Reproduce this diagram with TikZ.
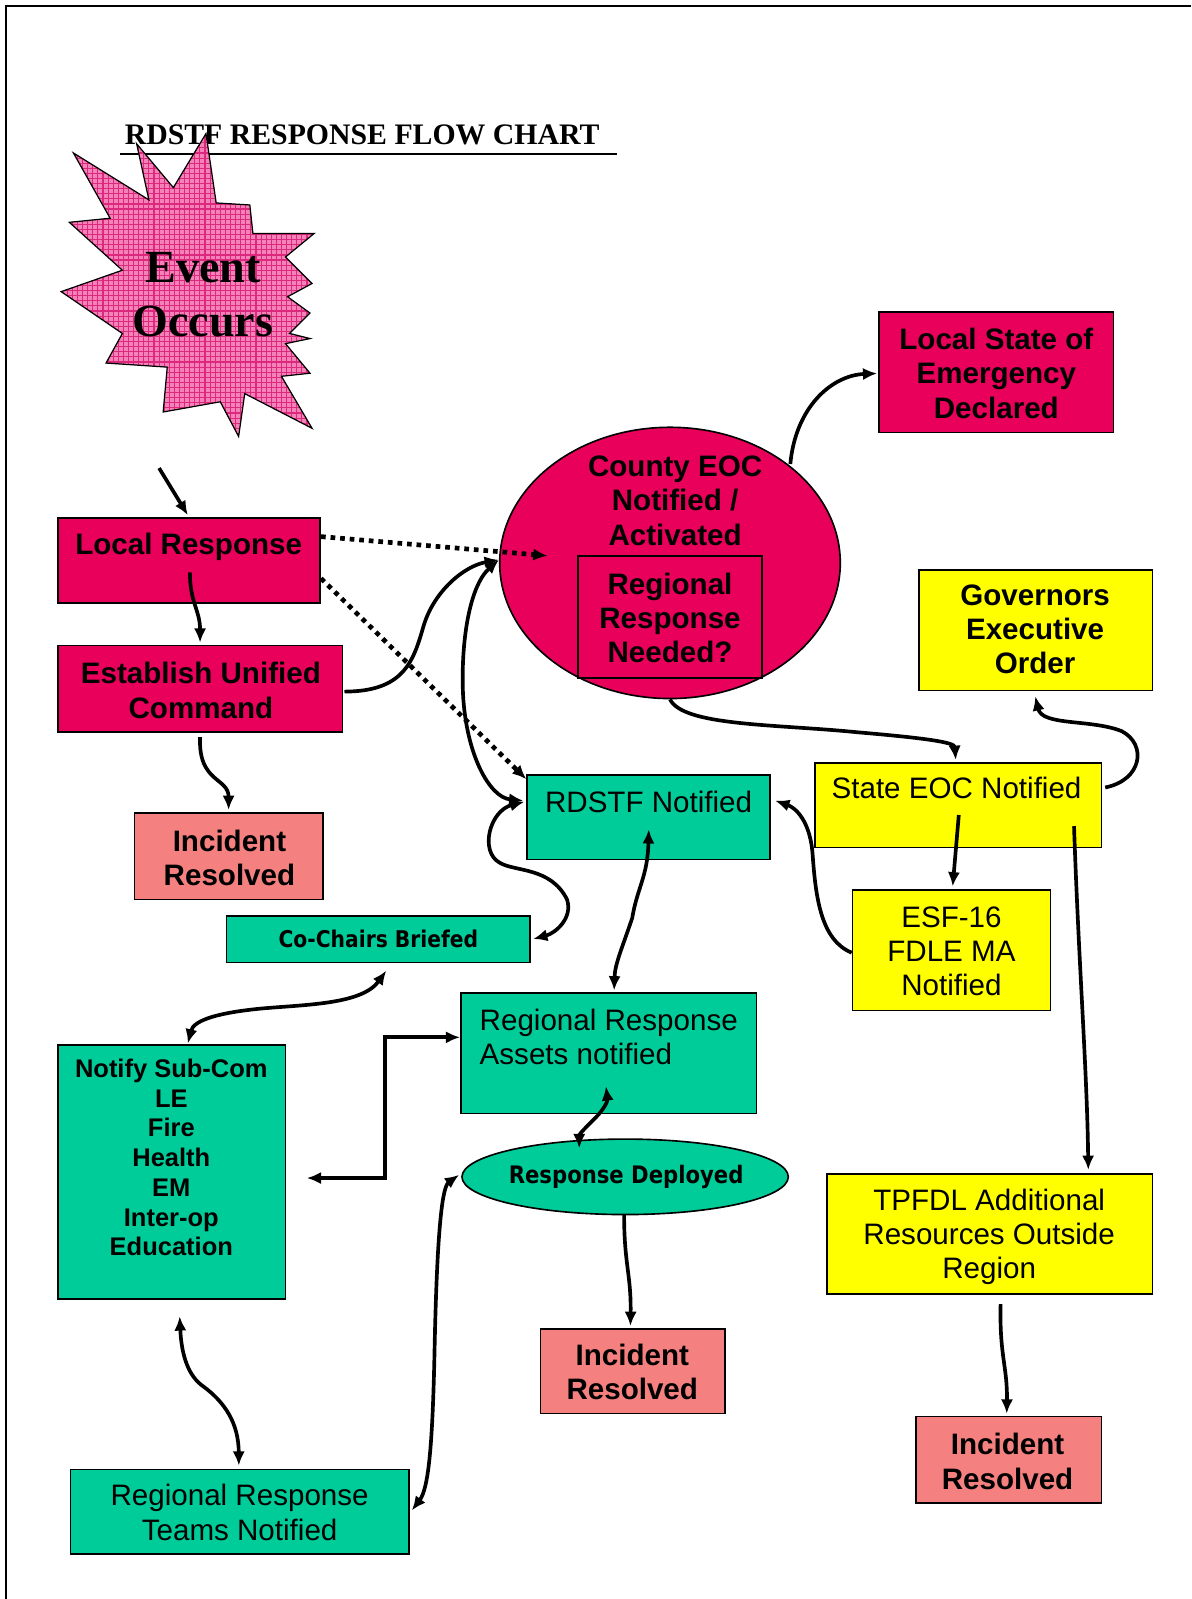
\documentclass[tikz,border=0pt]{standalone}
\usepackage{fontspec}
\setmainfont{Liberation Sans}
\newfontfamily\serifbold{Liberation Serif}
\newfontfamily\tahoma{DejaVu Sans}[FakeStretch=0.88]
\usetikzlibrary{arrows.meta,shapes.geometric,fit,calc}
\definecolor{crimson}{RGB}{232,0,90}
\definecolor{salmon}{RGB}{245,128,128}
\definecolor{sea}{RGB}{0,204,153}
\definecolor{lemon}{RGB}{255,255,0}
\definecolor{burstbase}{RGB}{244,130,185}
\definecolor{burstgrid}{RGB}{220,40,125}
\newcommand\burstpath{(72,150) -- (146,196) -- (134,141) -- (170,184) -- (202,131) -- (212,199) -- (245,201) -- (248,229) -- (308,229) -- (280,252) -- (306,278) -- (282,291) -- (304,307) -- (284,327) -- (304,332) -- (280,337) -- (304,366) -- (276,369) -- (306,420) -- (240,386) -- (234,428) -- (216,394) -- (160,404) -- (164,360) -- (104,356) -- (120,327) -- (60,286) -- (120,265) -- (68,218) -- (108,214) -- cycle}
\tikzset{
  box/.style={draw=black, line width=0.8pt, inner sep=0pt},
  lbl/.style={inner sep=0pt, align=center, font=\fontsize{14.5pt}{16.8pt}\selectfont\bfseries},
  lblr/.style={inner sep=0pt, align=center, font=\fontsize{14.5pt}{16.8pt}\selectfont},
  lbls/.style={inner sep=0pt, align=center, font=\fontsize{12.5pt}{14.6pt}\selectfont\bfseries},
  lblt/.style={inner sep=0pt, font=\tahoma\fontsize{11.3pt}{13pt}\selectfont\bfseries},
  conn/.style={line width=1.8pt, ->},
  both/.style={line width=1.8pt, <->},
  dotlink/.style={line width=2.3pt, dash pattern=on 2.3pt off 2.4pt, ->},
}
\begin{document}
\begin{tikzpicture}[x=0.5pt,y=-0.5pt,>={Latex[length=7pt,width=6pt]}]
\useasboundingbox (0,0) rectangle (1168,1568);
\fill[white] (0,0) rectangle (1168,1568);
\draw[line width=1.2pt] (6,1568) -- (6,6) -- (1168,6);

% title
\node[anchor=base west, inner sep=0pt, font=\serifbold\bfseries\fontsize{14.6pt}{16pt}\selectfont] (title) at (122,142) {RDSTF RESPONSE FLOW CHART};
\draw[line width=0.7pt] (118,151) -- (605,151);

% starburst
\fill[burstbase] \burstpath;
\begin{scope}
  \clip \burstpath;
  \foreach \i in {56,61,...,316} \draw[burstgrid, line width=0.55pt] (\i,125) -- (\i,435);
  \foreach \j in {125,130,...,435} \draw[burstgrid, line width=0.55pt] (55,\j) -- (315,\j);
\end{scope}
\draw[line width=0.6pt, line join=miter] \burstpath;
\node[inner sep=0pt, align=center, font=\serifbold\bfseries\fontsize{22.6pt}{26.5pt}\selectfont] (event) at (199,289) {Event\\Occurs};

% boxes
\node[box, fill=crimson, fit={(57,508) (314,591)}] (lr) {};
\node[lbl] (lrt) at (185,536) {Local Response};
\node[box, fill=crimson, fit={(57,633) (336,718)}] (euc) {};
\node[lbl] (euct) at (197,677) {Establish Unified\\Command};
\node[box, fill=salmon, fit={(132,797) (317,882)}] (ir1) {};
\node[lbl] (ir1t) at (225,841) {Incident\\Resolved};
\node[box, fill=sea, fit={(222,898) (520,944)}] (cc) {};
\node[lblt] (cct) at (371,921) {Co-Chairs Briefed};
\node[box, fill=sea, fit={(57,1025) (280,1274)}] (ns) {};
\node[lbls] (nst) at (168,1135) {Notify Sub-Com\\LE\\Fire\\Health\\EM\\Inter-op\\Education};
\node[box, fill=sea, fit={(69,1441) (401,1524)}] (rrt) {};
\node[lblr] (rrtt) at (235,1483) {Regional Response\\Teams Notified};

\node[draw=black, line width=0.8pt, fill=crimson, ellipse, minimum width=167pt, minimum height=133pt, inner sep=0pt] (eoc) at (657,552) {};
\node[lbl] (eoct) at (662,491) {County EOC\\Notified /\\Activated};
\node[draw=black, line width=1.2pt, inner sep=0pt, fit={(567,545) (747,665)}] (rrn) {};
\node[lbl] (rrnt) at (657,606) {Regional\\Response\\Needed?};

\node[box, fill=crimson, fit={(862,306) (1092,424)}] (lse) {};
\node[lbl] (lset) at (977,366) {Local State of\\Emergency\\Declared};
\node[box, fill=lemon, fit={(901,559) (1130,677)}] (geo) {};
\node[lbl] (geot) at (1015,617) {Governors\\Executive\\Order};
\node[box, fill=sea, fit={(517,760) (755,843)}] (rd) {};
\node[lblr] (rdt) at (636,786) {RDSTF Notified};
\node[box, fill=lemon, fit={(799,748) (1080,831)}] (seoc) {};
\node[lblr] (seoct) at (938,773) {State EOC Notified};
\node[box, fill=lemon, fit={(836,873) (1030,991)}] (esf) {};
\node[lblr] (esft) at (933,933) {ESF-16\\FDLE MA\\Notified};
\node[box, fill=sea, fit={(452,974) (742,1092)}] (rra) {};
\node[lblr, align=left, anchor=west] (rrat) at (470,1017) {Regional Response\\Assets notified};
\node[draw=black, line width=0.8pt, fill=sea, ellipse, minimum width=160pt, minimum height=37pt, inner sep=0pt] (rdep) at (613,1154) {};
\node[inner sep=0pt, font=\tahoma\fontsize{11.8pt}{13pt}\selectfont\bfseries] (rdept) at (614,1154) {Response Deployed};
\node[box, fill=salmon, fit={(530,1303) (711,1386)}] (ir2) {};
\node[lbl] (ir2t) at (620,1345) {Incident\\Resolved};
\node[box, fill=lemon, fit={(811,1151) (1130,1269)}] (tp) {};
\node[lblr] (tpt) at (970,1213) {TPFDL Additional\\Resources Outside\\Region};
\node[box, fill=salmon, fit={(898,1389) (1080,1474)}] (ir3) {};
\node[lbl] (ir3t) at (988,1433) {Incident\\Resolved};

% connectors
\coordinate (evtail) at (156,459);
\draw[conn] (evtail) -- ($(lr.north west)+(128,-2)$);
\draw[conn] ($(lr.north west)+(130,54)$) .. controls +(0,30) and +(0,-32) .. ($(euc.north west)+(140,-2)$);
\draw[conn] ($(euc.south west)+(140,4)$) .. controls +(-2,45) and +(0,-32) .. ($(ir1.north west)+(93,-2)$);
\draw[dotlink] ($(lr.north east)+(0,19)$) -- ($(eoc.center)+(-120,-7)$);
\draw[dotlink] ($(lr.north east)+(0,60)$) -- ($(rd.north west)+(0,5)$);
\draw[conn] ($(euc.north east)+(1,46)$) .. controls (395,678) and (405,650) .. (415,615) .. controls (425,580) and (455,555) .. ($(eoc.west)+(0,-3)$);
\draw[both] ($(eoc.west)+(0,-3)$) .. controls (460,575) and (452,630) .. (454,680) .. controls (457,740) and (480,782) .. ($(rd.north west)+(-3,26)$);
\draw[conn] ($(eoc.center)+(118,-97)$) .. controls (780,400) and (815,368) .. ($(lse.north west)+(-1,61)$);
\draw[conn] (eoc.south) .. controls (670,712) and (760,710) .. (840,718) .. controls (910,724) and (936,728) .. ($(seoc.north west)+(139,-2)$);
\draw[conn] ($(seoc.north east)+(3,25)$) .. controls (1120,765) and (1125,730) .. (1100,717) .. controls (1070,705) and (1022,712) .. ($(geo.south west)+(115,5)$);
\draw[conn] ($(seoc.north west)+(142,52)$) -- ($(esf.north west)+(99,-3)$);
\draw[conn] ($(esf.north west)+(0,62)$) .. controls (805,922) and (800,880) .. (797,840) .. controls (795,805) and (780,792) .. ($(rd.north west)+(244,26)$);
\draw[conn] ($(seoc.north west)+(255,63)$) .. controls (1058,950) and (1066,1050) .. ($(tp.north west)+(257,-3)$);
\draw[both] ($(rd.north west)+(120,54)$) .. controls (635,860) and (625,870) .. (620,900) .. controls (610,930) and (603,945) .. ($(rra.north west)+(151,-2)$);
\draw[both] ($(cc.south east)+(-142,7)$) .. controls (355,985) and (300,985) .. (256,989) .. controls (215,993) and (190,1000) .. ($(ns.north west)+(128,-1)$);
\draw[both] ($(ns.north east)+(20,131)$) -- ++(77,0) |- ($(rra.north west)+(0,44)$);
\draw[both] ($(rra.north west)+(143,92)$) .. controls (596,1080) and (592,1088) .. (584,1096) .. controls (574,1106) and (568,1112) .. ($(rdep.center)+(-45,-28)$);
\draw[conn] ($(rdep.center)+(-1,37)$) .. controls (612,1240) and (619,1250) .. ($(ir2.north west)+(89,-2)$);
\draw[both] ($(rrt.north east)+(2,41)$) .. controls (420,1460) and (424,1420) .. (426,1330) .. controls (428,1230) and (432,1165) .. ($(rdep.west)+(-2,-2)$);
\draw[both] ($(ns.south west)+(120,16)$) .. controls (178,1330) and (185,1350) .. (200,1360) .. controls (220,1375) and (234,1395) .. ($(rrt.north west)+(166,-3)$);
\draw[conn] ($(tp.south west)+(171,9)$) .. controls (980,1330) and (988,1340) .. ($(ir3.north west)+(90,-2)$);
\draw[both] ($(rd.north west)+(-2,27)$) .. controls (480,795) and (470,835) .. (490,846) .. controls (505,855) and (540,850) .. (556,882) .. controls (562,900) and (545,915) .. ($(cc.south east)+(2,-24)$);
\end{tikzpicture}
\end{document}
